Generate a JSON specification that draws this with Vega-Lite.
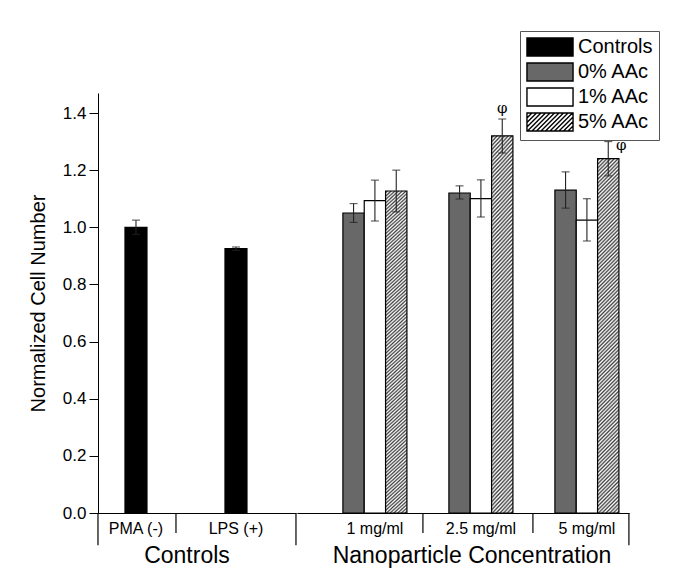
{
  "$schema": "https://vega.github.io/schema/vega-lite/v6.json",
  "padding": {"left": 28, "top": 30, "right": 5, "bottom": 5},
  "spacing": 0,
  "config": {
    "font": "Liberation Sans",
    "view": {"stroke": null},
    "axisX": {"domainColor": "black", "domainWidth": 1, "ticks": false, "labelFontSize": 16, "labelColor": "black", "labelPadding": 7, "labelAngle": 0, "titleFontSize": 23, "titleFontWeight": "normal", "titleColor": "black", "titlePadding": 8},
    "axisY": {"domainColor": "black", "domainWidth": 1, "tickColor": "black", "labelFontSize": 17, "labelColor": "black", "labelPadding": 3, "titleFontSize": 20, "titleFontWeight": "normal", "titleColor": "black", "titlePadding": 14, "grid": false},
    "legend": {"orient": "none", "legendX": 422, "legendY": -62,
      "symbolType": "M-2.56,-1H2.56V1H-2.56Z", "symbolSize": 324, "symbolStrokeColor": "black", "symbolStrokeWidth": 1.5,
      "symbolOffset": 14, "labelOffset": 18, "labelFontSize": 20, "labelColor": "black", "rowPadding": 1, "padding": 6,
      "strokeColor": "#555555", "fillColor": "white"}
  },
  "datasets": {
    "ctrl": [
      {"group": "PMA (-)", "series": "Controls", "value": 1.0, "lo": 0.975, "hi": 1.025},
      {"group": "LPS (+)", "series": "Controls", "value": 0.925, "lo": 0.919, "hi": 0.931}
    ],
    "nano": [
      {"group": "1 mg/ml", "series": "0% AAc", "value": 1.05, "lo": 1.017, "hi": 1.083},
      {"group": "1 mg/ml", "series": "1% AAc", "value": 1.093, "lo": 1.022, "hi": 1.165},
      {"group": "1 mg/ml", "series": "5% AAc", "value": 1.127, "lo": 1.054, "hi": 1.2},
      {"group": "2.5 mg/ml", "series": "0% AAc", "value": 1.12, "lo": 1.099, "hi": 1.145},
      {"group": "2.5 mg/ml", "series": "1% AAc", "value": 1.1, "lo": 1.036, "hi": 1.166},
      {"group": "2.5 mg/ml", "series": "5% AAc", "value": 1.32, "lo": 1.26, "hi": 1.379, "note": "φ"},
      {"group": "5 mg/ml", "series": "0% AAc", "value": 1.13, "lo": 1.067, "hi": 1.194},
      {"group": "5 mg/ml", "series": "1% AAc", "value": 1.025, "lo": 0.952, "hi": 1.1},
      {"group": "5 mg/ml", "series": "5% AAc", "value": 1.24, "lo": 1.18, "hi": 1.3, "note": "φ"}
    ]
  },
  "resolve": {"scale": {"color": "shared", "y": "shared"}},
  "hconcat": [
    {
      "width": 198,
      "height": 420,
      "data": {"name": "ctrl"},
      "encoding": {
        "x": {"field": "group", "type": "nominal", "sort": null, "title": "Controls",
          "scale": {"domain": ["PMA (-)", "LPS (+)"], "paddingInner": 0.78, "paddingOuter": 0.38, "align": 0.355},
          "axis": {"titleX": 88.5}}
      },
      "layer": [
        {
          "mark": {"type": "bar", "stroke": "black", "strokeWidth": 1.2},
          "encoding": {
            "y": {"field": "value", "type": "quantitative", "title": "Normalized Cell Number",
              "scale": {"domain": [0, 1.47], "nice": false},
              "axis": {"values": [0, 0.1, 0.2, 0.3, 0.4, 0.5, 0.6, 0.7, 0.8, 0.9, 1.0, 1.1, 1.2, 1.3, 1.4],
                "labelExpr": "round(datum.value * 10) % 2 == 0 ? format(datum.value, '.1f') : ''",
                "tickSize": {"condition": {"test": "round(datum.value * 10) % 2 == 1", "value": 5}, "value": 9}}},
            "color": {"field": "series", "type": "nominal",
              "scale": {"domain": ["Controls", "0% AAc", "1% AAc", "5% AAc"], "range": ["#000000", "#686868", "#ffffff", "#ffffff"]},
              "legend": {"title": null,
                "encode": {"symbols": {"update": {"stroke": {"value": "black"}, "strokeWidth": {"value": 1.4},
                  "shape": {"signal": "datum.value === '5% AAc' ? 'M-2.56,-1H2.56V1H-2.56Z M-2.56,-0.44L-2,-1 M-2.56,0.06L-1.5,-1 M-2.56,0.56L-1,-1 M-2.5,1L-0.5,-1 M-2,1L0,-1 M-1.5,1L0.5,-1 M-1,1L1,-1 M-0.5,1L1.5,-1 M0,1L2,-1 M0.5,1L2.5,-1 M1,1L2.56,-0.56 M1.5,1L2.56,-0.06 M2,1L2.56,0.44' : 'M-2.56,-1H2.56V1H-2.56Z'"}}}}}}
          }
        },
        {
          "mark": {"type": "rule", "color": "#222222", "strokeWidth": 1.1},
          "encoding": {
            "y": {"field": "lo", "type": "quantitative", "title": "Normalized Cell Number", "scale": {"domain": [0, 1.47], "nice": false}},
            "y2": {"field": "hi"}
          }
        },
        {
          "mark": {"type": "tick", "size": 8, "thickness": 1.2, "color": "#222222"},
          "encoding": {"y": {"field": "hi", "type": "quantitative", "title": "Normalized Cell Number", "scale": {"domain": [0, 1.47], "nice": false}}}
        },
        {
          "mark": {"type": "tick", "size": 8, "thickness": 1.2, "color": "#222222"},
          "encoding": {"y": {"field": "lo", "type": "quantitative", "title": "Normalized Cell Number", "scale": {"domain": [0, 1.47], "nice": false}}}
        },
        {
          "data": {"values": [{}]},
          "mark": {"type": "rule", "color": "black", "strokeWidth": 1.2},
          "encoding": {
            "x": {"datum": "PMA (-)", "type": "nominal", "bandPosition": -1.227},
            "y": {"datum": 0, "type": "quantitative", "title": "Normalized Cell Number", "scale": {"domain": [0, 1.47], "nice": false}},
            "y2": {"datum": -0.113}
          }
        },
        {
          "data": {"values": [{}]},
          "mark": {"type": "rule", "color": "black", "strokeWidth": 1.2},
          "encoding": {
            "x": {"datum": "PMA (-)", "type": "nominal", "bandPosition": 2.318},
            "y": {"datum": 0, "type": "quantitative", "title": "Normalized Cell Number", "scale": {"domain": [0, 1.47], "nice": false}},
            "y2": {"datum": -0.07}
          }
        },
        {
          "data": {"values": [{}]},
          "mark": {"type": "rule", "color": "black", "strokeWidth": 1.2},
          "encoding": {
            "x": {"datum": "LPS (+)", "type": "nominal", "bandPosition": 3.227},
            "y": {"datum": 0, "type": "quantitative", "title": "Normalized Cell Number", "scale": {"domain": [0, 1.47], "nice": false}},
            "y2": {"datum": -0.113}
          }
        }
      ]
    },
    {
      "width": 332,
      "height": 420,
      "data": {"name": "nano"},
      "encoding": {
        "x": {"field": "group", "type": "nominal", "sort": null, "title": "Nanoparticle Concentration",
          "scale": {"domain": ["1 mg/ml", "2.5 mg/ml", "5 mg/ml"], "paddingInner": 0.396, "paddingOuter": 0.264, "align": 0.82},
          "axis": {"titleX": 174.5}}
      },
      "layer": [
        {
          "transform": [{"filter": "datum.series !== '5% AAc'"}],
          "mark": {"type": "bar", "stroke": "black", "strokeWidth": 1.2},
          "encoding": {
            "xOffset": {"field": "series", "type": "nominal", "scale": {"domain": ["0% AAc", "1% AAc", "5% AAc"], "paddingInner": 0, "paddingOuter": 0}},
            "y": {"field": "value", "type": "quantitative", "scale": {"domain": [0, 1.47], "nice": false}, "axis": null},
            "color": {"field": "series", "type": "nominal",
              "scale": {"domain": ["Controls", "0% AAc", "1% AAc", "5% AAc"], "range": ["#000000", "#686868", "#ffffff", "#ffffff"]},
              "legend": {"title": null,
                "encode": {"symbols": {"update": {"stroke": {"value": "black"}, "strokeWidth": {"value": 1.4},
                  "shape": {"signal": "datum.value === '5% AAc' ? 'M-2.56,-1H2.56V1H-2.56Z M-2.56,-0.44L-2,-1 M-2.56,0.06L-1.5,-1 M-2.56,0.56L-1,-1 M-2.5,1L-0.5,-1 M-2,1L0,-1 M-1.5,1L0.5,-1 M-1,1L1,-1 M-0.5,1L1.5,-1 M0,1L2,-1 M0.5,1L2.5,-1 M1,1L2.56,-0.56 M1.5,1L2.56,-0.06 M2,1L2.56,0.44' : 'M-2.56,-1H2.56V1H-2.56Z'"}}}}}}
          }
        },
        {
          "transform": [{"filter": "datum.series === '5% AAc'"}],
          "mark": {"type": "bar", "stroke": "black", "strokeWidth": 1.2,
            "fill": {"gradient": "linear", "x1": 0, "y1": 0, "x2": 0.0643, "y2": 1.057, "stops": [
              {"offset": 0, "color": "#fff"}, {"offset": 0.005, "color": "#404040"}, {"offset": 0.01, "color": "#fff"}, {"offset": 0.015, "color": "#404040"}, {"offset": 0.02, "color": "#fff"}, {"offset": 0.025, "color": "#404040"}, {"offset": 0.03, "color": "#fff"}, {"offset": 0.035, "color": "#404040"}, {"offset": 0.04, "color": "#fff"}, {"offset": 0.045, "color": "#404040"},
              {"offset": 0.05, "color": "#fff"}, {"offset": 0.055, "color": "#404040"}, {"offset": 0.06, "color": "#fff"}, {"offset": 0.065, "color": "#404040"}, {"offset": 0.07, "color": "#fff"}, {"offset": 0.075, "color": "#404040"}, {"offset": 0.08, "color": "#fff"}, {"offset": 0.085, "color": "#404040"}, {"offset": 0.09, "color": "#fff"}, {"offset": 0.095, "color": "#404040"},
              {"offset": 0.1, "color": "#fff"}, {"offset": 0.105, "color": "#404040"}, {"offset": 0.11, "color": "#fff"}, {"offset": 0.115, "color": "#404040"}, {"offset": 0.12, "color": "#fff"}, {"offset": 0.125, "color": "#404040"}, {"offset": 0.13, "color": "#fff"}, {"offset": 0.135, "color": "#404040"}, {"offset": 0.14, "color": "#fff"}, {"offset": 0.145, "color": "#404040"},
              {"offset": 0.15, "color": "#fff"}, {"offset": 0.155, "color": "#404040"}, {"offset": 0.16, "color": "#fff"}, {"offset": 0.165, "color": "#404040"}, {"offset": 0.17, "color": "#fff"}, {"offset": 0.175, "color": "#404040"}, {"offset": 0.18, "color": "#fff"}, {"offset": 0.185, "color": "#404040"}, {"offset": 0.19, "color": "#fff"}, {"offset": 0.195, "color": "#404040"},
              {"offset": 0.2, "color": "#fff"}, {"offset": 0.205, "color": "#404040"}, {"offset": 0.21, "color": "#fff"}, {"offset": 0.215, "color": "#404040"}, {"offset": 0.22, "color": "#fff"}, {"offset": 0.225, "color": "#404040"}, {"offset": 0.23, "color": "#fff"}, {"offset": 0.235, "color": "#404040"}, {"offset": 0.24, "color": "#fff"}, {"offset": 0.245, "color": "#404040"},
              {"offset": 0.25, "color": "#fff"}, {"offset": 0.255, "color": "#404040"}, {"offset": 0.26, "color": "#fff"}, {"offset": 0.265, "color": "#404040"}, {"offset": 0.27, "color": "#fff"}, {"offset": 0.275, "color": "#404040"}, {"offset": 0.28, "color": "#fff"}, {"offset": 0.285, "color": "#404040"}, {"offset": 0.29, "color": "#fff"}, {"offset": 0.295, "color": "#404040"},
              {"offset": 0.3, "color": "#fff"}, {"offset": 0.305, "color": "#404040"}, {"offset": 0.31, "color": "#fff"}, {"offset": 0.315, "color": "#404040"}, {"offset": 0.32, "color": "#fff"}, {"offset": 0.325, "color": "#404040"}, {"offset": 0.33, "color": "#fff"}, {"offset": 0.335, "color": "#404040"}, {"offset": 0.34, "color": "#fff"}, {"offset": 0.345, "color": "#404040"},
              {"offset": 0.35, "color": "#fff"}, {"offset": 0.355, "color": "#404040"}, {"offset": 0.36, "color": "#fff"}, {"offset": 0.365, "color": "#404040"}, {"offset": 0.37, "color": "#fff"}, {"offset": 0.375, "color": "#404040"}, {"offset": 0.38, "color": "#fff"}, {"offset": 0.385, "color": "#404040"}, {"offset": 0.39, "color": "#fff"}, {"offset": 0.395, "color": "#404040"},
              {"offset": 0.4, "color": "#fff"}, {"offset": 0.405, "color": "#404040"}, {"offset": 0.41, "color": "#fff"}, {"offset": 0.415, "color": "#404040"}, {"offset": 0.42, "color": "#fff"}, {"offset": 0.425, "color": "#404040"}, {"offset": 0.43, "color": "#fff"}, {"offset": 0.435, "color": "#404040"}, {"offset": 0.44, "color": "#fff"}, {"offset": 0.445, "color": "#404040"},
              {"offset": 0.45, "color": "#fff"}, {"offset": 0.455, "color": "#404040"}, {"offset": 0.46, "color": "#fff"}, {"offset": 0.465, "color": "#404040"}, {"offset": 0.47, "color": "#fff"}, {"offset": 0.475, "color": "#404040"}, {"offset": 0.48, "color": "#fff"}, {"offset": 0.485, "color": "#404040"}, {"offset": 0.49, "color": "#fff"}, {"offset": 0.495, "color": "#404040"},
              {"offset": 0.5, "color": "#fff"}, {"offset": 0.505, "color": "#404040"}, {"offset": 0.51, "color": "#fff"}, {"offset": 0.515, "color": "#404040"}, {"offset": 0.52, "color": "#fff"}, {"offset": 0.525, "color": "#404040"}, {"offset": 0.53, "color": "#fff"}, {"offset": 0.535, "color": "#404040"}, {"offset": 0.54, "color": "#fff"}, {"offset": 0.545, "color": "#404040"},
              {"offset": 0.55, "color": "#fff"}, {"offset": 0.555, "color": "#404040"}, {"offset": 0.56, "color": "#fff"}, {"offset": 0.565, "color": "#404040"}, {"offset": 0.57, "color": "#fff"}, {"offset": 0.575, "color": "#404040"}, {"offset": 0.58, "color": "#fff"}, {"offset": 0.585, "color": "#404040"}, {"offset": 0.59, "color": "#fff"}, {"offset": 0.595, "color": "#404040"},
              {"offset": 0.6, "color": "#fff"}, {"offset": 0.605, "color": "#404040"}, {"offset": 0.61, "color": "#fff"}, {"offset": 0.615, "color": "#404040"}, {"offset": 0.62, "color": "#fff"}, {"offset": 0.625, "color": "#404040"}, {"offset": 0.63, "color": "#fff"}, {"offset": 0.635, "color": "#404040"}, {"offset": 0.64, "color": "#fff"}, {"offset": 0.645, "color": "#404040"},
              {"offset": 0.65, "color": "#fff"}, {"offset": 0.655, "color": "#404040"}, {"offset": 0.66, "color": "#fff"}, {"offset": 0.665, "color": "#404040"}, {"offset": 0.67, "color": "#fff"}, {"offset": 0.675, "color": "#404040"}, {"offset": 0.68, "color": "#fff"}, {"offset": 0.685, "color": "#404040"}, {"offset": 0.69, "color": "#fff"}, {"offset": 0.695, "color": "#404040"},
              {"offset": 0.7, "color": "#fff"}, {"offset": 0.705, "color": "#404040"}, {"offset": 0.71, "color": "#fff"}, {"offset": 0.715, "color": "#404040"}, {"offset": 0.72, "color": "#fff"}, {"offset": 0.725, "color": "#404040"}, {"offset": 0.73, "color": "#fff"}, {"offset": 0.735, "color": "#404040"}, {"offset": 0.74, "color": "#fff"}, {"offset": 0.745, "color": "#404040"},
              {"offset": 0.75, "color": "#fff"}, {"offset": 0.755, "color": "#404040"}, {"offset": 0.76, "color": "#fff"}, {"offset": 0.765, "color": "#404040"}, {"offset": 0.77, "color": "#fff"}, {"offset": 0.775, "color": "#404040"}, {"offset": 0.78, "color": "#fff"}, {"offset": 0.785, "color": "#404040"}, {"offset": 0.79, "color": "#fff"}, {"offset": 0.795, "color": "#404040"},
              {"offset": 0.8, "color": "#fff"}, {"offset": 0.805, "color": "#404040"}, {"offset": 0.81, "color": "#fff"}, {"offset": 0.815, "color": "#404040"}, {"offset": 0.82, "color": "#fff"}, {"offset": 0.825, "color": "#404040"}, {"offset": 0.83, "color": "#fff"}, {"offset": 0.835, "color": "#404040"}, {"offset": 0.84, "color": "#fff"}, {"offset": 0.845, "color": "#404040"},
              {"offset": 0.85, "color": "#fff"}, {"offset": 0.855, "color": "#404040"}, {"offset": 0.86, "color": "#fff"}, {"offset": 0.865, "color": "#404040"}, {"offset": 0.87, "color": "#fff"}, {"offset": 0.875, "color": "#404040"}, {"offset": 0.88, "color": "#fff"}, {"offset": 0.885, "color": "#404040"}, {"offset": 0.89, "color": "#fff"}, {"offset": 0.895, "color": "#404040"},
              {"offset": 0.9, "color": "#fff"}, {"offset": 0.905, "color": "#404040"}, {"offset": 0.91, "color": "#fff"}, {"offset": 0.915, "color": "#404040"}, {"offset": 0.92, "color": "#fff"}, {"offset": 0.925, "color": "#404040"}, {"offset": 0.93, "color": "#fff"}, {"offset": 0.935, "color": "#404040"}, {"offset": 0.94, "color": "#fff"}, {"offset": 0.945, "color": "#404040"},
              {"offset": 0.95, "color": "#fff"}, {"offset": 0.955, "color": "#404040"}, {"offset": 0.96, "color": "#fff"}, {"offset": 0.965, "color": "#404040"}, {"offset": 0.97, "color": "#fff"}, {"offset": 0.975, "color": "#404040"}, {"offset": 0.98, "color": "#fff"}, {"offset": 0.985, "color": "#404040"}, {"offset": 0.99, "color": "#fff"}, {"offset": 0.995, "color": "#404040"},
              {"offset": 1, "color": "#fff"}]}},
          "encoding": {
            "xOffset": {"field": "series", "type": "nominal", "scale": {"domain": ["0% AAc", "1% AAc", "5% AAc"], "paddingInner": 0, "paddingOuter": 0}},
            "y": {"field": "value", "type": "quantitative", "scale": {"domain": [0, 1.47], "nice": false}, "axis": null}
          }
        },
        {
          "mark": {"type": "rule", "color": "#222222", "strokeWidth": 1.1},
          "encoding": {
            "xOffset": {"field": "series", "type": "nominal", "scale": {"domain": ["0% AAc", "1% AAc", "5% AAc"], "paddingInner": 0, "paddingOuter": 0}},
            "y": {"field": "lo", "type": "quantitative", "scale": {"domain": [0, 1.47], "nice": false}, "axis": null},
            "y2": {"field": "hi"}
          }
        },
        {
          "mark": {"type": "tick", "size": 8, "thickness": 1.2, "color": "#222222"},
          "encoding": {
            "xOffset": {"field": "series", "type": "nominal", "scale": {"domain": ["0% AAc", "1% AAc", "5% AAc"], "paddingInner": 0, "paddingOuter": 0}},
            "y": {"field": "hi", "type": "quantitative", "scale": {"domain": [0, 1.47], "nice": false}, "axis": null}
          }
        },
        {
          "mark": {"type": "tick", "size": 8, "thickness": 1.2, "color": "#222222"},
          "encoding": {
            "xOffset": {"field": "series", "type": "nominal", "scale": {"domain": ["0% AAc", "1% AAc", "5% AAc"], "paddingInner": 0, "paddingOuter": 0}},
            "y": {"field": "lo", "type": "quantitative", "scale": {"domain": [0, 1.47], "nice": false}, "axis": null}
          }
        },
        {
          "transform": [{"filter": "datum.note && datum.group === '2.5 mg/ml'"}],
          "mark": {"type": "text", "font": "DejaVu Serif", "fontSize": 15, "color": "black", "baseline": "bottom", "dy": -3},
          "encoding": {
            "xOffset": {"field": "series", "type": "nominal", "scale": {"domain": ["0% AAc", "1% AAc", "5% AAc"], "paddingInner": 0, "paddingOuter": 0}},
            "y": {"field": "hi", "type": "quantitative", "scale": {"domain": [0, 1.47], "nice": false}, "axis": null},
            "text": {"field": "note"}
          }
        },
        {
          "transform": [{"filter": "datum.note && datum.group === '5 mg/ml'"}],
          "mark": {"type": "text", "font": "DejaVu Serif", "fontSize": 15, "color": "black", "baseline": "middle", "dx": 13, "dy": 3},
          "encoding": {
            "xOffset": {"field": "series", "type": "nominal", "scale": {"domain": ["0% AAc", "1% AAc", "5% AAc"], "paddingInner": 0, "paddingOuter": 0}},
            "y": {"field": "hi", "type": "quantitative", "scale": {"domain": [0, 1.47], "nice": false}, "axis": null},
            "text": {"field": "note"}
          }
        },
        {
          "data": {"values": [{}]},
          "mark": {"type": "rule", "color": "black", "strokeWidth": 1.2},
          "encoding": {
            "x": {"datum": "1 mg/ml", "type": "nominal", "bandPosition": 1.25},
            "y": {"datum": 0, "type": "quantitative", "scale": {"domain": [0, 1.47], "nice": false}, "axis": null},
            "y2": {"datum": -0.07}
          }
        },
        {
          "data": {"values": [{}]},
          "mark": {"type": "rule", "color": "black", "strokeWidth": 1.2},
          "encoding": {
            "x": {"datum": "2.5 mg/ml", "type": "nominal", "bandPosition": 1.3125},
            "y": {"datum": 0, "type": "quantitative", "scale": {"domain": [0, 1.47], "nice": false}, "axis": null},
            "y2": {"datum": -0.07}
          }
        },
        {
          "data": {"values": [{}]},
          "mark": {"type": "rule", "color": "black", "strokeWidth": 1.2},
          "encoding": {
            "x": {"datum": "5 mg/ml", "type": "nominal", "bandPosition": 1.156},
            "y": {"datum": 0, "type": "quantitative", "scale": {"domain": [0, 1.47], "nice": false}, "axis": null},
            "y2": {"datum": -0.113}
          }
        }
      ]
    }
  ]
}
